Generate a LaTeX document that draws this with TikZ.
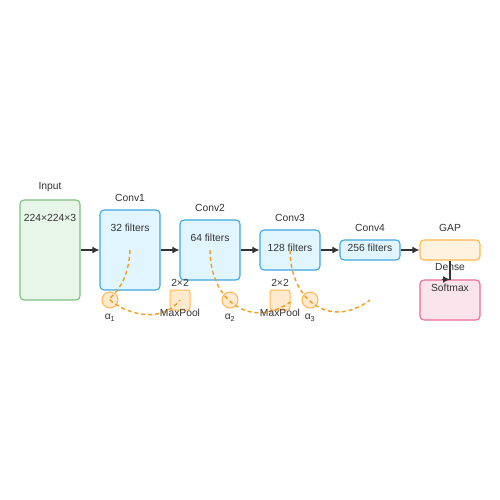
\documentclass[tikz,border=0pt]{standalone}
\usepackage{fontspec}
\setmainfont{Liberation Sans}
\usetikzlibrary{arrows.meta}
\definecolor{txt}{HTML}{333333}
\definecolor{gfill}{HTML}{E8F5E9}\definecolor{gline}{HTML}{7CC17F}
\definecolor{bfill}{HTML}{E1F5FE}\definecolor{bline}{HTML}{3EA8DE}
\definecolor{ofill}{HTML}{FFF3E0}\definecolor{oline}{HTML}{FFB74D}
\definecolor{pfill}{HTML}{FCE4EC}\definecolor{pline}{HTML}{EC6A98}
\definecolor{afill}{HTML}{FFE9CF}\definecolor{dash}{HTML}{F59C1F}
\begin{document}
\begin{tikzpicture}[x=1pt,y=-1pt,
  font=\fontsize{10.3}{12}\selectfont, text=txt,
  box/.style={draw, rounded corners=4pt, line width=1.1pt, inner sep=0pt},
  inbox/.style={box, fill=gfill, draw=gline},
  convbox/.style={box, fill=bfill, draw=bline},
  gapbox/.style={box, fill=ofill, draw=oline},
  softbox/.style={box, fill=pfill, draw=pline},
  poolbox/.style={draw=oline, fill=afill, rounded corners=2.5pt, line width=1pt, minimum width=20pt, minimum height=20pt, inner sep=0pt},
  attn/.style={circle, draw=oline, fill=afill, line width=1pt, minimum size=16pt, inner sep=0pt},
  lbl/.style={inner sep=0pt, yshift=-1.5pt},
  arr/.style={draw=txt, line width=1.4pt, -{Latex[length=7pt,width=7pt]}},
  dsh/.style={draw=dash, line width=1.4pt, dash pattern=on 4pt off 3pt}
]
\useasboundingbox[fill=white] (0,0) rectangle (500,500);
% boxes
\node[inbox, minimum width=60pt, minimum height=100pt] (in) at (50,250) {};
\node[convbox, minimum width=60pt, minimum height=80pt] (c1) at (130,250) {};
\node[convbox, minimum width=60pt, minimum height=60pt] (c2) at (210,250) {};
\node[convbox, minimum width=60pt, minimum height=40pt] (c3) at (290,250) {};
\node[convbox, minimum width=60pt, minimum height=20pt] (c4) at (370,250) {};
\node[gapbox, minimum width=60pt, minimum height=20pt] (gap) at (450,250) {};
\node[softbox, minimum width=60pt, minimum height=40pt] (soft) at (450,300) {};
\node[attn] (a1) at (110,300) {};
\node[attn] (a2) at (230,300) {};
\node[attn] (a3) at (310,300) {};
\node[poolbox] (p1) at (180,300) {};
\node[poolbox] (p2) at (280,300) {};
% labels
\node[lbl] (inl) at (50,186) {Input};
\node[lbl] (inx) at (50,216) {224×224×3};
\node[lbl] (c1l) at (130,196) {Conv1};
\node[lbl] (c1x) at (130,226) {32 filters};
\node[lbl] (c2l) at (210,206) {Conv2};
\node[lbl] (c2x) at (210,236) {64 filters};
\node[lbl] (c3l) at (290,216) {Conv3};
\node[lbl] (c3x) at (290,246) {128 filters};
\node[lbl] (c4l) at (370,226) {Conv4};
\node[lbl] (c4x) at (370,246) {256 filters};
\node[lbl] (gapl) at (450,226) {GAP};
\node[lbl] (softx) at (450,286) {Softmax};
\node[lbl] (p1t) at (180,281) {2×2};
\node[lbl] (p2t) at (280,281) {2×2};
% arrows
\draw[arr] (in.east) -- (c1.west);
\draw[arr] (c1.east) -- (c2.west);
\draw[arr] (c2.east) -- (c3.west);
\draw[arr] (c3.east) -- (c4.west);
\draw[arr] (c4.east) -- (gap.west);
\draw[draw=txt, line width=1.4pt] (gap.south) -- ([yshift=-1pt]soft.north);
\draw[arr] ([xshift=-8pt]soft.north) -- (soft.north);
\node[lbl] (dense) at (450,266) {Dense};
% dashed attention curves
\coordinate (e3) at (370,300);
\draw[dsh] (c1.center) .. controls (129,272) and (122,288) .. (109,299)
  .. controls (122,312) and (160,326) .. (p1.center);
\draw[dsh] (c2.center) .. controls (210,300) and (250,330) .. ([yshift=-2pt]p2.east);
\draw[dsh] (c3.center) .. controls (290,300) and (330,330) .. (e3);
% lower labels
\node[lbl] (p1b) at (180,311) {MaxPool};
\node[lbl] (p2b) at (280,311) {MaxPool};
\node[lbl] (a1l) at (110,316) {α\textsubscript{1}};
\node[lbl] (a2l) at (230,316) {α\textsubscript{2}};
\node[lbl] (a3l) at (310,316) {α\textsubscript{3}};
\end{tikzpicture}
\end{document}
